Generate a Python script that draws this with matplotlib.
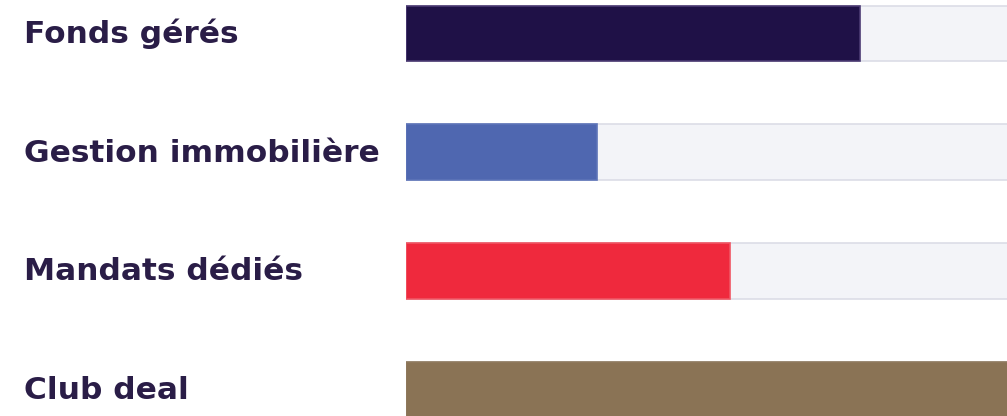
import matplotlib.pyplot as plt
import matplotlib.transforms as mtransforms

categories = ["Fonds gérés", "Gestion immobilière", "Mandats dédiés", "Club deal"]
values = [75.5, 31.8, 53.9, 105]
track_max = 105
colors = ["#1f1147", "#4f67b0", "#ef293d", "#8a7355"]
edges = ["#4b3b73", "#5d74b8", "#f05563", "#8f7a5e"]

plt.rcParams['font.family'] = ['DejaVu Sans']

fig = plt.figure(figsize=(10.07, 4.16), dpi=100)
ax = fig.add_axes([406 / 1007, 0, 1 - 406 / 1007, 1])

pitch = 118.7
ax.set_xlim(0, 100)
ax.set_ylim((416 - 33.5) / pitch, -33.5 / pitch)
h = 56 / pitch

ypos = list(range(len(categories)))
# light track behind each bar, running off the right edge
ax.barh(ypos, [track_max] * len(ypos), height=h, left=0, color="#f3f4f8",
        edgecolor="#dcdde6", linewidth=1.2, align="center", zorder=1)
ax.barh(ypos, values, height=h, left=0, color=colors, edgecolor=edges,
        linewidth=1.2, align="center", zorder=2)
ax.axis("off")

trans = mtransforms.blended_transform_factory(fig.transFigure, ax.transData)
for y, label in zip(ypos, categories):
    ax.text(24 / 1007, y + 0.08, label, transform=trans, ha="left", va="baseline",
            fontsize=22.5, fontweight="bold", color="#2a1d47", clip_on=False)

fig.savefig("out.png", dpi=100)
